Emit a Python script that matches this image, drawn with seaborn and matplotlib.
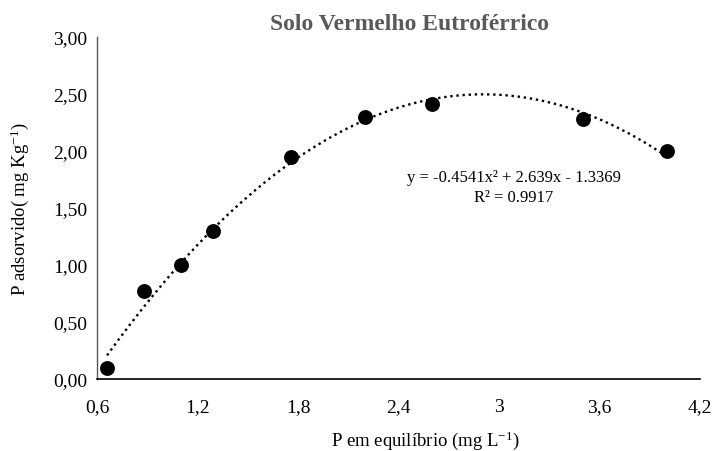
import numpy as np
import pandas as pd
import matplotlib
matplotlib.use("Agg")
import matplotlib.pyplot as plt
from matplotlib.ticker import FuncFormatter, FixedLocator
import seaborn as sns

# Data
x_eq = [0.66, 0.88, 1.10, 1.29, 1.76, 2.20, 2.60, 3.50, 4.00]
y_ads = [0.10, 0.77, 1.00, 1.30, 1.95, 2.30, 2.41, 2.28, 2.00]
coef_a = -0.4541
coef_b = 2.639
coef_c = -1.3369
r2 = 0.9917
x_ticks = [0.6, 1.2, 1.8, 2.4, 3.0, 3.6, 4.2]
y_ticks = [0.0, 0.5, 1.0, 1.5, 2.0, 2.5, 3.0]

sns.set_theme(style="white")
plt.rcParams["font.family"] = ["Liberation Serif", "DejaVu Serif"]
plt.rcParams["mathtext.fontset"] = "custom"
plt.rcParams["mathtext.rm"] = "Liberation Serif"
plt.rcParams["mathtext.it"] = "Liberation Serif:italic"

fig = plt.figure(figsize=(7.12, 4.52), dpi=100)
ax = fig.add_axes([97/712, 1-380/452, (700-97)/712, (380-38)/452])

df = pd.DataFrame({"x": x_eq, "y": y_ads})
xs = np.linspace(min(x_eq), max(x_eq), 200)
curve = pd.DataFrame({"x": xs, "y": coef_a*xs**2 + coef_b*xs + coef_c})

sns.lineplot(data=curve, x="x", y="y", ax=ax, color="black", linestyle=(0, (1, 1.6)), linewidth=1.7)
sns.scatterplot(data=df, x="x", y="y", ax=ax, color="black", s=115, edgecolor="black", linewidth=0, zorder=3)

ax.set_xlim(0.6, 4.2)
ax.set_ylim(0, 3.0)
ax.xaxis.set_major_locator(FixedLocator(x_ticks))
ax.yaxis.set_major_locator(FixedLocator(y_ticks))
ax.xaxis.set_major_formatter(FuncFormatter(lambda v, p: (f"{v:.1f}".rstrip("0").rstrip(".")).replace(".", ",")))
ax.yaxis.set_major_formatter(FuncFormatter(lambda v, p: f"{v:.2f}".replace(".", ",")))
ax.tick_params(axis="both", length=0, labelsize=14, colors="black")
ax.tick_params(axis="x", pad=14)
ax.tick_params(axis="y", pad=7)

for s in ["top", "right"]:
    ax.spines[s].set_visible(False)
ax.spines["left"].set_color("#595959")
ax.spines["left"].set_linewidth(1.0)
ax.spines["bottom"].set_color("black")
ax.spines["bottom"].set_linewidth(1.2)
ax.grid(False)

ax.set_xlabel(r"P em equilíbrio (mg L$^{\mathregular{-1}}$)", fontsize=13.5, color="black")
ax.xaxis.set_label_coords(0.545, -0.145)
ax.set_ylabel(r"P adsorvido( mg Kg$^{\mathregular{-1}}$)", fontsize=13.5, color="black")
ax.yaxis.set_label_coords(-0.11, 0.5)

fig.text(409/712, 1-24/452, "Solo Vermelho Eutroférrico", ha="center", va="center",
         fontsize=17, fontweight="bold", color="#595959")

eq = f"y = {coef_a}x² + {coef_b}x - {abs(coef_c)}\nR² = {r2}"
ax.text(514/712, 1-188/452, eq, transform=fig.transFigure, ha="center", va="center",
        fontsize=12, color="black", linespacing=1.3)

fig.savefig("out.png", dpi=100, facecolor="white")
